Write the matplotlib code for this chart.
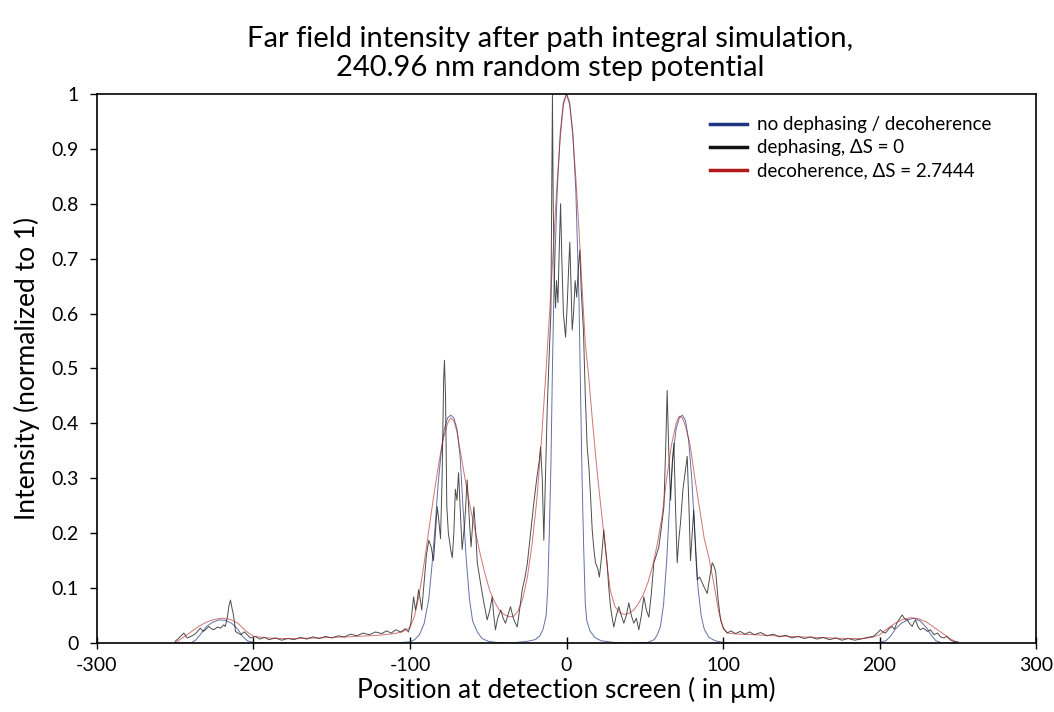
import matplotlib.pyplot as plt
from matplotlib.ticker import FormatStrFormatter, MultipleLocator

plt.rcParams['font.family'] = ['Lato', 'DejaVu Sans']
plt.rcParams['axes.unicode_minus'] = False

# no dephasing / decoherence
blue_x = [-250, -240, -237, -234, -230, -226, -222, -218, -214, -210, -207, -204, -200, -190,
          -110, -100, -97, -94, -91, -88, -86, -84, -82, -80, -78, -76, -74, -72, -70, -68,
          -66, -64, -62, -60, -57, -54, -50, -45, -35, -25, -20, -17, -15, -13, -12, -11, -10,
          -9, -8, -6, -4, -2, 0, 2, 4, 6, 8, 9, 10, 11, 12, 13, 15, 18, 22, 30, 40, 52, 56,
          58, 60, 62, 64, 66, 68, 70, 72, 74, 76, 78, 80, 82, 84, 86, 88, 91, 95, 100, 110,
          190, 200, 204, 207, 210, 214, 218, 222, 226, 230, 233, 236, 240, 250]
blue_y = [0, 0, 0.005, 0.015, 0.03, 0.038, 0.042, 0.041, 0.036, 0.025, 0.012, 0.004, 0.001, 0,
          0, 0.002, 0.006, 0.015, 0.035, 0.08, 0.14, 0.21, 0.29, 0.35, 0.39, 0.41, 0.415, 0.41,
          0.39, 0.34, 0.24, 0.15, 0.08, 0.04, 0.02, 0.008, 0.003, 0.001, 0, 0.003, 0.006, 0.013,
          0.025, 0.05, 0.1, 0.2, 0.32, 0.5, 0.65, 0.82, 0.93, 0.985, 1.0, 0.985, 0.93, 0.82,
          0.62, 0.45, 0.29, 0.17, 0.07, 0.04, 0.022, 0.01, 0.004, 0.001, 0, 0.001, 0.006,
          0.015, 0.03, 0.07, 0.15, 0.26, 0.34, 0.39, 0.41, 0.415, 0.405, 0.37, 0.3, 0.2, 0.1,
          0.05, 0.025, 0.01, 0.004, 0.001, 0, 0, 0.001, 0.004, 0.012, 0.025, 0.036, 0.042,
          0.045, 0.04, 0.028, 0.014, 0.004, 0, 0]

# dephasing, dS = 0
black_x = [-250, -248, -246.6, -244.5, -242.4, -240, -238, -236, -234, -232, -230.7, -228.6,
           -227, -225.4, -223, -221, -219, -218, -216.5, -215.8, -214.7, -213.5, -213, -212,
           -211.5, -210, -208, -206, -205, -203, -202, -199, -196, -193, -190, -186, -182,
           -178, -174, -170, -166, -162, -158, -154, -150, -146, -142, -138, -134, -130, -126,
           -122, -118, -115, -112, -109, -106, -103, -101, -99.5, -97.7, -96.5, -95.5, -94.5,
           -93.5, -92.5, -91, -89.5, -88, -86.5, -85, -83.8, -82.6, -81.5, -80.5, -79.5,
           -78.5, -78, -77.3, -76.5, -75.5, -74, -73, -72, -71, -70, -69, -68, -66.7, -65,
           -63.5, -62, -61, -59.2, -58, -57, -55, -52.8, -50.7, -49, -47.5, -46.5, -45.4, -44,
           -42, -40.5, -39, -37.5, -35.8, -34, -32.5, -31.5, -30, -28.3, -26.5, -25, -23,
           -20.9, -19, -17.5, -16.6, -15.5, -14.5, -13.5, -12.3, -11, -10, -9.3, -9, -8.5,
           -7.8, -7, -6.4, -5.5, -4.8, -3.8, -3, -2, -0.6, 0.5, 1.3, 2.1, 2.9, 3.6, 4.5, 5.5,
           6.5, 7.5, 8.5, 9.3, 10, 10.8, 12, 13.2, 14.3, 15.3, 16.4, 17.5, 18.5, 20, 21, 22.5,
           23.8, 25, 25.9, 27, 28.1, 29.2, 30.2, 31.8, 33.4, 35, 36.6, 38.2, 39.8, 41.4, 43,
           44.6, 46.2, 47.8, 49.4, 51, 52.6, 54.2, 55.8, 57.4, 59, 60.6, 62.2, 63.3, 64.3,
           65.3, 66.5, 67.6, 68.6, 69.6, 70.7, 71.8, 72.8, 74.4, 76, 77.1, 78.2, 79.2, 80.3,
           81.3, 82.4, 83.5, 85, 86.6, 88.2, 89.9, 91.5, 93.1, 94.2, 95.3, 96.8, 98.4, 100.5,
           102.7, 105, 108, 111, 114, 117, 120, 124, 128, 132, 136, 140, 144, 148, 152, 156,
           160, 164, 168, 172, 176, 180, 184, 188, 192, 196, 198.5, 200.6, 202, 203.8, 206,
           208, 209.5, 211, 213, 214.5, 216, 217.7, 219.3, 220.9, 222, 223, 224.5, 226, 228,
           230.6, 232.5, 234.8, 237, 239, 241, 243, 245, 247, 250]
black_y = [0.003, 0.008, 0.012, 0.018, 0.009, 0.012, 0.015, 0.02, 0.027, 0.021, 0.024, 0.03,
           0.026, 0.024, 0.029, 0.027, 0.033, 0.03, 0.05, 0.066, 0.078, 0.06, 0.054, 0.035,
           0.021, 0.018, 0.015, 0.02, 0.018, 0.012, 0.009, 0.012, 0.007, 0.01, 0.006, 0.009,
           0.005, 0.008, 0.006, 0.01, 0.007, 0.011, 0.008, 0.012, 0.009, 0.013, 0.011, 0.016,
           0.013, 0.018, 0.015, 0.02, 0.017, 0.022, 0.018, 0.024, 0.02, 0.026, 0.02, 0.035,
           0.084, 0.06, 0.075, 0.097, 0.08, 0.06, 0.11, 0.16, 0.187, 0.175, 0.15, 0.2, 0.248,
           0.22, 0.19, 0.3, 0.48, 0.515, 0.45, 0.25, 0.2, 0.17, 0.155, 0.2, 0.28, 0.26, 0.31,
           0.25, 0.17, 0.22, 0.297, 0.22, 0.175, 0.248, 0.2, 0.146, 0.11, 0.073, 0.042, 0.06,
           0.084, 0.05, 0.024, 0.045, 0.06, 0.045, 0.036, 0.05, 0.066, 0.045, 0.035, 0.029,
           0.06, 0.097, 0.12, 0.146, 0.2, 0.255, 0.3, 0.33, 0.357, 0.3, 0.187, 0.3, 0.43, 0.53,
           0.6, 0.9, 1.0, 0.8, 0.66, 0.61, 0.66, 0.62, 0.7, 0.8, 0.7, 0.6, 0.557, 0.62, 0.68,
           0.73, 0.65, 0.57, 0.6, 0.66, 0.63, 0.68, 0.716, 0.65, 0.61, 0.57, 0.45, 0.357, 0.32,
           0.27, 0.206, 0.17, 0.146, 0.135, 0.12, 0.16, 0.206, 0.17, 0.146, 0.1, 0.066, 0.045,
           0.029, 0.05, 0.066, 0.05, 0.036, 0.05, 0.073, 0.05, 0.036, 0.045, 0.024, 0.05, 0.084,
           0.06, 0.047, 0.09, 0.146, 0.16, 0.175, 0.21, 0.248, 0.35, 0.46, 0.35, 0.26, 0.33,
           0.364, 0.25, 0.146, 0.19, 0.218, 0.28, 0.315, 0.34, 0.25, 0.15, 0.2, 0.242, 0.17,
           0.115, 0.12, 0.11, 0.1, 0.09, 0.12, 0.146, 0.14, 0.13, 0.08, 0.042, 0.025, 0.018,
           0.022, 0.017, 0.021, 0.016, 0.02, 0.015, 0.019, 0.013, 0.016, 0.011, 0.014, 0.009,
           0.012, 0.008, 0.011, 0.007, 0.01, 0.006, 0.009, 0.005, 0.008, 0.005, 0.007, 0.01,
           0.012, 0.018, 0.024, 0.02, 0.018, 0.026, 0.03, 0.025, 0.036, 0.045, 0.051, 0.044,
           0.042, 0.035, 0.03, 0.038, 0.042, 0.03, 0.024, 0.027, 0.021, 0.024, 0.015, 0.018,
           0.011, 0.009, 0.012, 0.006, 0.003, 0.002]

# decoherence, dS = 2.7444
red_x = [-250, -245, -240, -235, -230, -225, -220, -215, -210, -205, -200, -190, -180, -160,
         -140, -120, -110, -105, -100, -97, -94, -91, -88, -85, -82, -79, -76, -74, -72, -70,
         -67, -64, -61, -58, -55, -52, -49, -46, -43, -40, -37, -34, -31, -28, -25, -22, -19,
         -16, -13, -10, -8, -6, -4, -2, 0, 2, 4, 6, 8, 10, 12, 14, 17, 20, 23, 26, 28, 31, 34,
         37, 40, 43, 46, 49, 52, 55, 58, 61, 64, 67, 70, 72, 74, 76, 79, 82, 85, 88, 91, 94,
         97, 100, 103, 110, 120, 140, 160, 180, 190, 195, 200, 205, 210, 215, 220, 225, 230,
         235, 240, 245, 250]
red_y = [0, 0.01, 0.02, 0.03, 0.038, 0.043, 0.045, 0.043, 0.036, 0.022, 0.012, 0.009, 0.008,
         0.009, 0.011, 0.014, 0.017, 0.02, 0.028, 0.05, 0.09, 0.145, 0.205, 0.265, 0.32, 0.37,
         0.4, 0.41, 0.405, 0.385, 0.335, 0.285, 0.24, 0.2, 0.16, 0.125, 0.095, 0.075, 0.06,
         0.052, 0.048, 0.048, 0.058, 0.08, 0.12, 0.18, 0.26, 0.37, 0.5, 0.64, 0.74, 0.84, 0.92,
         0.98, 1.0, 0.98, 0.925, 0.845, 0.75, 0.645, 0.545, 0.49, 0.39, 0.3, 0.22, 0.14, 0.095,
         0.066, 0.055, 0.052, 0.054, 0.06, 0.072, 0.088, 0.11, 0.14, 0.18, 0.23, 0.3, 0.36,
         0.4, 0.413, 0.41, 0.395, 0.36, 0.3, 0.245, 0.19, 0.155, 0.11, 0.06, 0.028, 0.018,
         0.016, 0.015, 0.012, 0.01, 0.008, 0.008, 0.01, 0.015, 0.026, 0.036, 0.043, 0.046,
         0.044, 0.038, 0.028, 0.018, 0.008, 0]

fig = plt.figure(figsize=(10.54, 7.12), dpi=100)
ax = fig.add_axes([0.092, 0.097, 0.891, 0.771])

# thin lines, drawn a little translucent
ax.plot(blue_x, blue_y, color='#1f3580', lw=0.7, alpha=0.7, label='no dephasing / decoherence')
ax.plot(black_x, black_y, color='#111111', lw=0.7, alpha=0.75, label='dephasing, \u0394S = 0')
ax.plot(red_x, red_y, color='#b01818', lw=0.7, alpha=0.6, label='decoherence, \u0394S = 2.7444')

ax.set_xlim(-300, 300)
ax.set_ylim(0, 1)
ax.xaxis.set_major_locator(MultipleLocator(100))
ax.yaxis.set_major_locator(MultipleLocator(0.1))
ax.yaxis.set_major_formatter(FormatStrFormatter('%g'))
ax.tick_params(axis='x', direction='inout', length=8, width=1, labelsize=14, pad=6)
ax.tick_params(axis='y', direction='out', length=5, width=1, labelsize=14, pad=8)
for s in ax.spines.values():
    s.set_linewidth(1.2)

ax.set_xlabel('Position at detection screen ( in \u00b5m)', fontsize=19, labelpad=2)
ax.set_ylabel('Intensity (normalized to 1)', fontsize=19, labelpad=8)

fig.text(0.522, 0.945, 'Far field intensity after path integral simulation,', fontsize=21,
         ha='center', va='center')
fig.text(0.522, 0.905, '240.96 nm random step potential', fontsize=21, ha='center', va='center')

leg = ax.legend(loc='upper right', frameon=False, fontsize=13.5, handlelength=2.0,
                handletextpad=0.5, labelspacing=0.32, bbox_to_anchor=(0.97, 0.99))
for h in leg.get_lines():
    h.set_linewidth(2.5)
    h.set_alpha(1)

fig.savefig('out.png', dpi=100)
